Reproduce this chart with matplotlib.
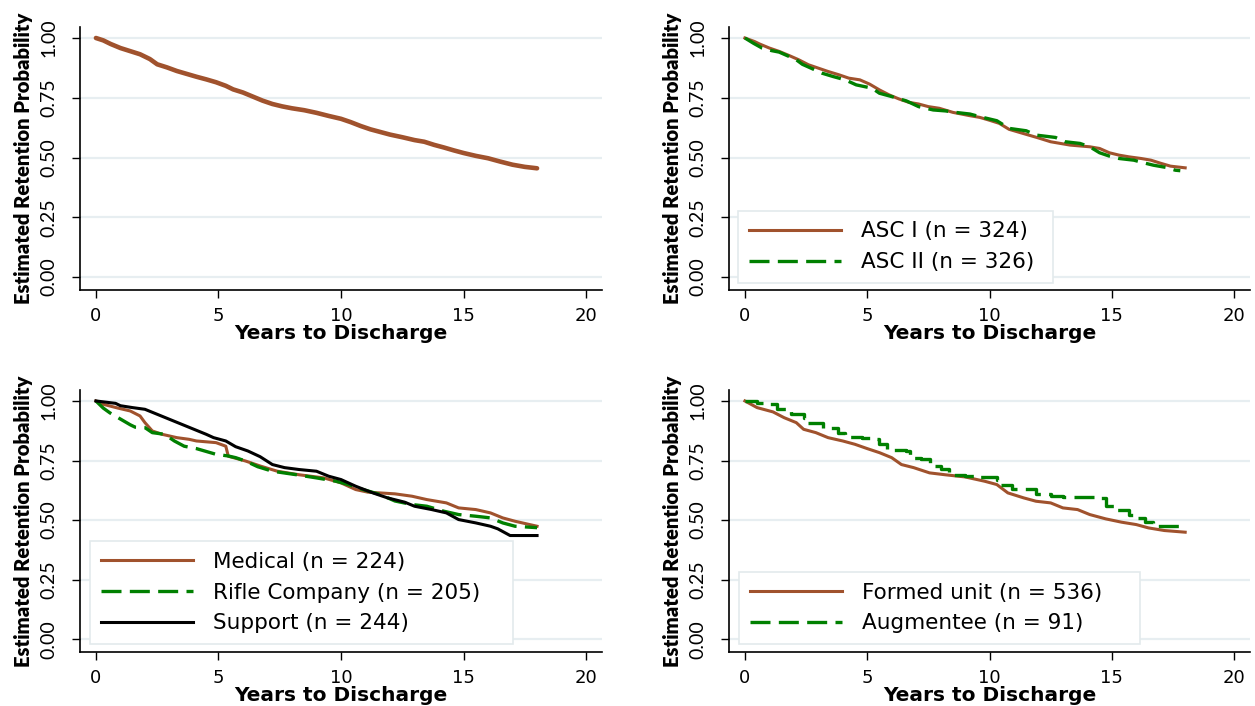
import numpy as np
import matplotlib
matplotlib.use("Agg")
import matplotlib.pyplot as plt

# Kaplan-Meier style retention estimates (years, survival)
t_all = [0, 0.3, 0.6, 1.0, 1.4, 1.8, 2.2, 2.5, 2.9, 3.3, 3.7, 4.1, 4.5, 4.9, 5.3, 5.6, 6.0, 6.4, 6.8,
         7.2, 7.6, 8.0, 8.5, 9.0, 9.5, 10.0, 10.4, 10.8, 11.2, 11.6, 12.0, 12.5, 13.0, 13.4, 13.8,
         14.2, 14.6, 15.0, 15.5, 16.0, 16.5, 17.0, 17.5, 18.0]
s_all = [1.0, 0.99, 0.975, 0.958, 0.945, 0.932, 0.912, 0.89, 0.877, 0.862, 0.85, 0.838, 0.827, 0.815,
         0.8, 0.785, 0.772, 0.755, 0.738, 0.724, 0.714, 0.706, 0.698, 0.687, 0.674, 0.662, 0.648, 0.632,
         0.618, 0.607, 0.596, 0.585, 0.573, 0.566, 0.553, 0.542, 0.53, 0.519, 0.507, 0.497, 0.483,
         0.47, 0.461, 0.455]

t_asc1 = [0, 0.4, 0.6, 1.0, 1.4, 1.8, 2.2, 2.6, 3.0, 3.4, 3.85, 4.25, 4.7, 5.1, 5.5, 5.9, 6.3, 6.7,
          7.1, 7.5, 7.95, 8.5, 9.2, 9.6, 10.0, 10.4, 10.8, 11.2, 11.6, 12.0, 12.5, 13.3, 14.1, 14.5,
          14.9, 15.3, 15.7, 16.2, 16.6, 17.0, 17.4, 18.0]
s_asc1 = [1.0, 0.985, 0.975, 0.958, 0.944, 0.927, 0.909, 0.888, 0.874, 0.86, 0.846, 0.832, 0.825,
          0.807, 0.783, 0.762, 0.745, 0.731, 0.724, 0.713, 0.706, 0.689, 0.675, 0.668, 0.656, 0.643,
          0.618, 0.606, 0.594, 0.582, 0.566, 0.552, 0.545, 0.538, 0.52, 0.51, 0.503, 0.496, 0.489,
          0.476, 0.464, 0.457]
t_asc2 = [0, 0.35, 0.7, 1.1, 1.4, 1.8, 2.1, 2.35, 2.7, 3.15, 3.6, 4.1, 4.55, 5.2, 5.5, 6.0, 6.6, 7.1,
          7.7, 8.2, 8.6, 9.2, 9.6, 10.3, 10.8, 11.5, 11.9, 12.7, 13.1, 13.7, 14.1, 14.5, 14.9, 15.3,
          15.9, 16.3, 16.7, 17.2, 17.6, 17.8]
s_asc2 = [1.0, 0.978, 0.958, 0.947, 0.941, 0.923, 0.909, 0.89, 0.874, 0.853, 0.839, 0.825, 0.804,
          0.79, 0.769, 0.755, 0.737, 0.713, 0.699, 0.695, 0.689, 0.682, 0.671, 0.654, 0.622, 0.612,
          0.594, 0.584, 0.566, 0.559, 0.545, 0.52, 0.506, 0.496, 0.489, 0.478, 0.468, 0.459, 0.447,
          0.445]

t_med = [0, 0.3, 0.9, 1.4, 1.8, 2.0, 2.3, 2.7, 3.3, 3.8, 4.1, 4.9, 5.3, 5.4, 6.1, 6.7, 7.4, 8.3, 9.3,
         10.0, 10.6, 11.1, 12.2, 12.9, 13.5, 14.3, 14.8, 15.5, 16.1, 16.6, 17.1, 17.7, 18.0]
s_med = [1.0, 0.986, 0.97, 0.958, 0.937, 0.909, 0.874, 0.86, 0.846, 0.839, 0.832, 0.825, 0.81, 0.768,
         0.748, 0.727, 0.705, 0.69, 0.677, 0.656, 0.628, 0.617, 0.61, 0.6, 0.586, 0.572, 0.551, 0.544,
         0.53, 0.509, 0.495, 0.481, 0.474]
t_rifle = [0, 0.3, 0.57, 0.9, 1.4, 1.6, 2.0, 2.3, 2.8, 3.2, 3.6, 4.1, 4.6, 4.9, 5.4, 5.7, 6.1, 6.6,
           7.2, 8.2, 9.0, 9.8, 10.3, 10.9, 11.6, 12.2, 12.9, 13.5, 14.2, 14.8, 15.5, 16.1, 16.6,
           17.1, 18.0]
s_rifle = [1.0, 0.97, 0.95, 0.93, 0.9, 0.89, 0.888, 0.867, 0.86, 0.832, 0.81, 0.8, 0.785, 0.776,
           0.769, 0.762, 0.748, 0.724, 0.705, 0.69, 0.677, 0.663, 0.649, 0.628, 0.607, 0.58, 0.565,
           0.558, 0.537, 0.523, 0.516, 0.509, 0.488, 0.474, 0.468]
t_sup = [0, 0.8, 1.0, 1.5, 2.0, 2.5, 3.0, 3.5, 4.0, 4.5, 4.8, 5.3, 5.7, 6.2, 6.7, 7.2, 7.7, 8.3, 9.0,
         9.5, 10.0, 10.6, 11.3, 11.9, 12.6, 13.0, 13.7, 14.3, 14.8, 15.5, 16.1, 16.4, 16.9, 18.0]
s_sup = [1.0, 0.99, 0.98, 0.972, 0.965, 0.944, 0.923, 0.902, 0.881, 0.86, 0.846, 0.832, 0.808, 0.79,
         0.766, 0.733, 0.72, 0.712, 0.705, 0.684, 0.67, 0.642, 0.614, 0.593, 0.575, 0.558, 0.544,
         0.53, 0.502, 0.488, 0.474, 0.463, 0.435, 0.435]

t_formed = [0, 0.5, 1.15, 1.6, 2.1, 2.4, 2.9, 3.4, 4.0, 4.5, 5.0, 5.5, 6.0, 6.4, 6.9, 7.55, 8.2, 9.0,
            9.8, 10.3, 10.75, 11.4, 11.9, 12.5, 13.0, 13.6, 14.1, 14.75, 15.4, 16.0, 16.5, 17.15,
            18.0]
s_formed = [1.0, 0.972, 0.954, 0.93, 0.909, 0.881, 0.867, 0.846, 0.832, 0.818, 0.8, 0.783, 0.762,
            0.733, 0.72, 0.698, 0.69, 0.681, 0.663, 0.649, 0.614, 0.593, 0.579, 0.572, 0.551, 0.544,
            0.523, 0.505, 0.491, 0.481, 0.467, 0.456, 0.449]
t_aug = [0, 0.5, 0.8, 1.3, 1.9, 2.4, 2.6, 3.2, 3.8, 4.1, 4.8, 5.15, 5.5, 5.8, 6.6, 6.75, 7.2, 7.55,
         8.0, 8.35, 9.0, 9.5, 10.3, 10.4, 10.9, 11.9, 12.5, 13.0, 14.4, 14.75, 15.2, 15.7, 16.0,
         16.35, 16.7, 18.0]
s_aug = [1.0, 0.99, 0.986, 0.968, 0.944, 0.93, 0.909, 0.888, 0.867, 0.85, 0.846, 0.839, 0.818, 0.794,
         0.79, 0.762, 0.755, 0.727, 0.713, 0.69, 0.684, 0.68, 0.67, 0.649, 0.63, 0.611, 0.603, 0.596,
         0.593, 0.561, 0.544, 0.523, 0.509, 0.491, 0.474, 0.474]

x_ticks = [0, 5, 10, 15, 20]
y_ticks = [0.0, 0.25, 0.5, 0.75, 1.0]
y_tick_labels = ["0.00", "0.25", "0.50", "0.75", "1.00"]

BROWN = "#a0522d"
GREEN = "#008000"
DASH = (0, (6, 2.5))
NARROW = "Lato"

fig = plt.figure(figsize=(12.55, 7.06), dpi=100)
W, H = 1255, 706


def make_ax(left, top, right, bottom):
    ax = fig.add_axes([left / W, 1 - bottom / H, (right - left) / W, (bottom - top) / H])
    ax.set_xlim(-0.65, 20.65)
    ax.set_ylim(-0.054, 1.046)
    for s in ["top", "right"]:
        ax.spines[s].set_visible(False)
    for s in ["left", "bottom"]:
        ax.spines[s].set_linewidth(1.2)
    ax.set_xticks(x_ticks)
    ax.set_xticklabels([str(v) for v in x_ticks], fontsize=13, family="DejaVu Sans")
    ax.set_yticks(y_ticks)
    ax.set_yticklabels(y_tick_labels, fontsize=14, family=NARROW, rotation=90, va="center")
    ax.tick_params(axis="x", length=5.5, width=1, pad=7)
    ax.tick_params(axis="y", length=6, width=1, pad=10)
    ax.grid(axis="y", color="#e7eef1", lw=1.6)
    ax.set_axisbelow(True)
    ax.set_xlabel("Years to Discharge", fontsize=14.5, fontweight="bold", family="DejaVu Sans")
    ax.xaxis.set_label_coords(0.5, -0.128)
    ax.set_ylabel("Estimated Retention Probability", fontsize=14.6, fontweight="heavy", family=NARROW)
    ax.yaxis.set_label_coords(-0.09, 0.5)
    return ax


def add_legend(ax, x0, y0, w):
    leg = ax.legend(loc="lower left", bbox_to_anchor=(x0, y0, w, 0.3), mode="expand",
                    handlelength=4.3, handletextpad=0.9, labelspacing=0.5,
                    borderpad=0.5, borderaxespad=0, fancybox=False, framealpha=1,
                    prop={"family": "DejaVu Sans", "size": 15.5})
    leg.get_frame().set_edgecolor("#e3eaec")
    leg.get_frame().set_linewidth(1.2)
    return leg


ax1 = make_ax(80, 27, 602, 290)
ax1.plot(t_all, s_all, color=BROWN, lw=3.3, solid_capstyle="round")

ax2 = make_ax(729, 27, 1250, 290)
ax2.plot(t_asc1, s_asc1, color=BROWN, lw=2.2, label="ASC I (n = 324)")
ax2.plot(t_asc2, s_asc2, color=GREEN, lw=2.4, ls=DASH, label="ASC II (n = 326)")
add_legend(ax2, 0.017, 0.027, 0.605)

ax3 = make_ax(80, 390, 602, 652)
ax3.plot(t_med, s_med, color=BROWN, lw=2.2, label="Medical (n = 224)")
ax3.plot(t_rifle, s_rifle, color=GREEN, lw=2.4, ls=DASH, label="Rifle Company (n = 205)")
ax3.plot(t_sup, s_sup, color="black", lw=2.2, label="Support (n = 244)")
add_legend(ax3, 0.019, 0.03, 0.81)

ax4 = make_ax(729, 390, 1250, 652)
ax4.plot(t_formed, s_formed, color=BROWN, lw=2.2, label="Formed unit (n = 536)")
ax4.step(t_aug, s_aug, where="post", color=GREEN, lw=2.4, ls=DASH, label="Augmentee (n = 91)")
add_legend(ax4, 0.019, 0.03, 0.77)

fig.savefig("out.png", dpi=100)
